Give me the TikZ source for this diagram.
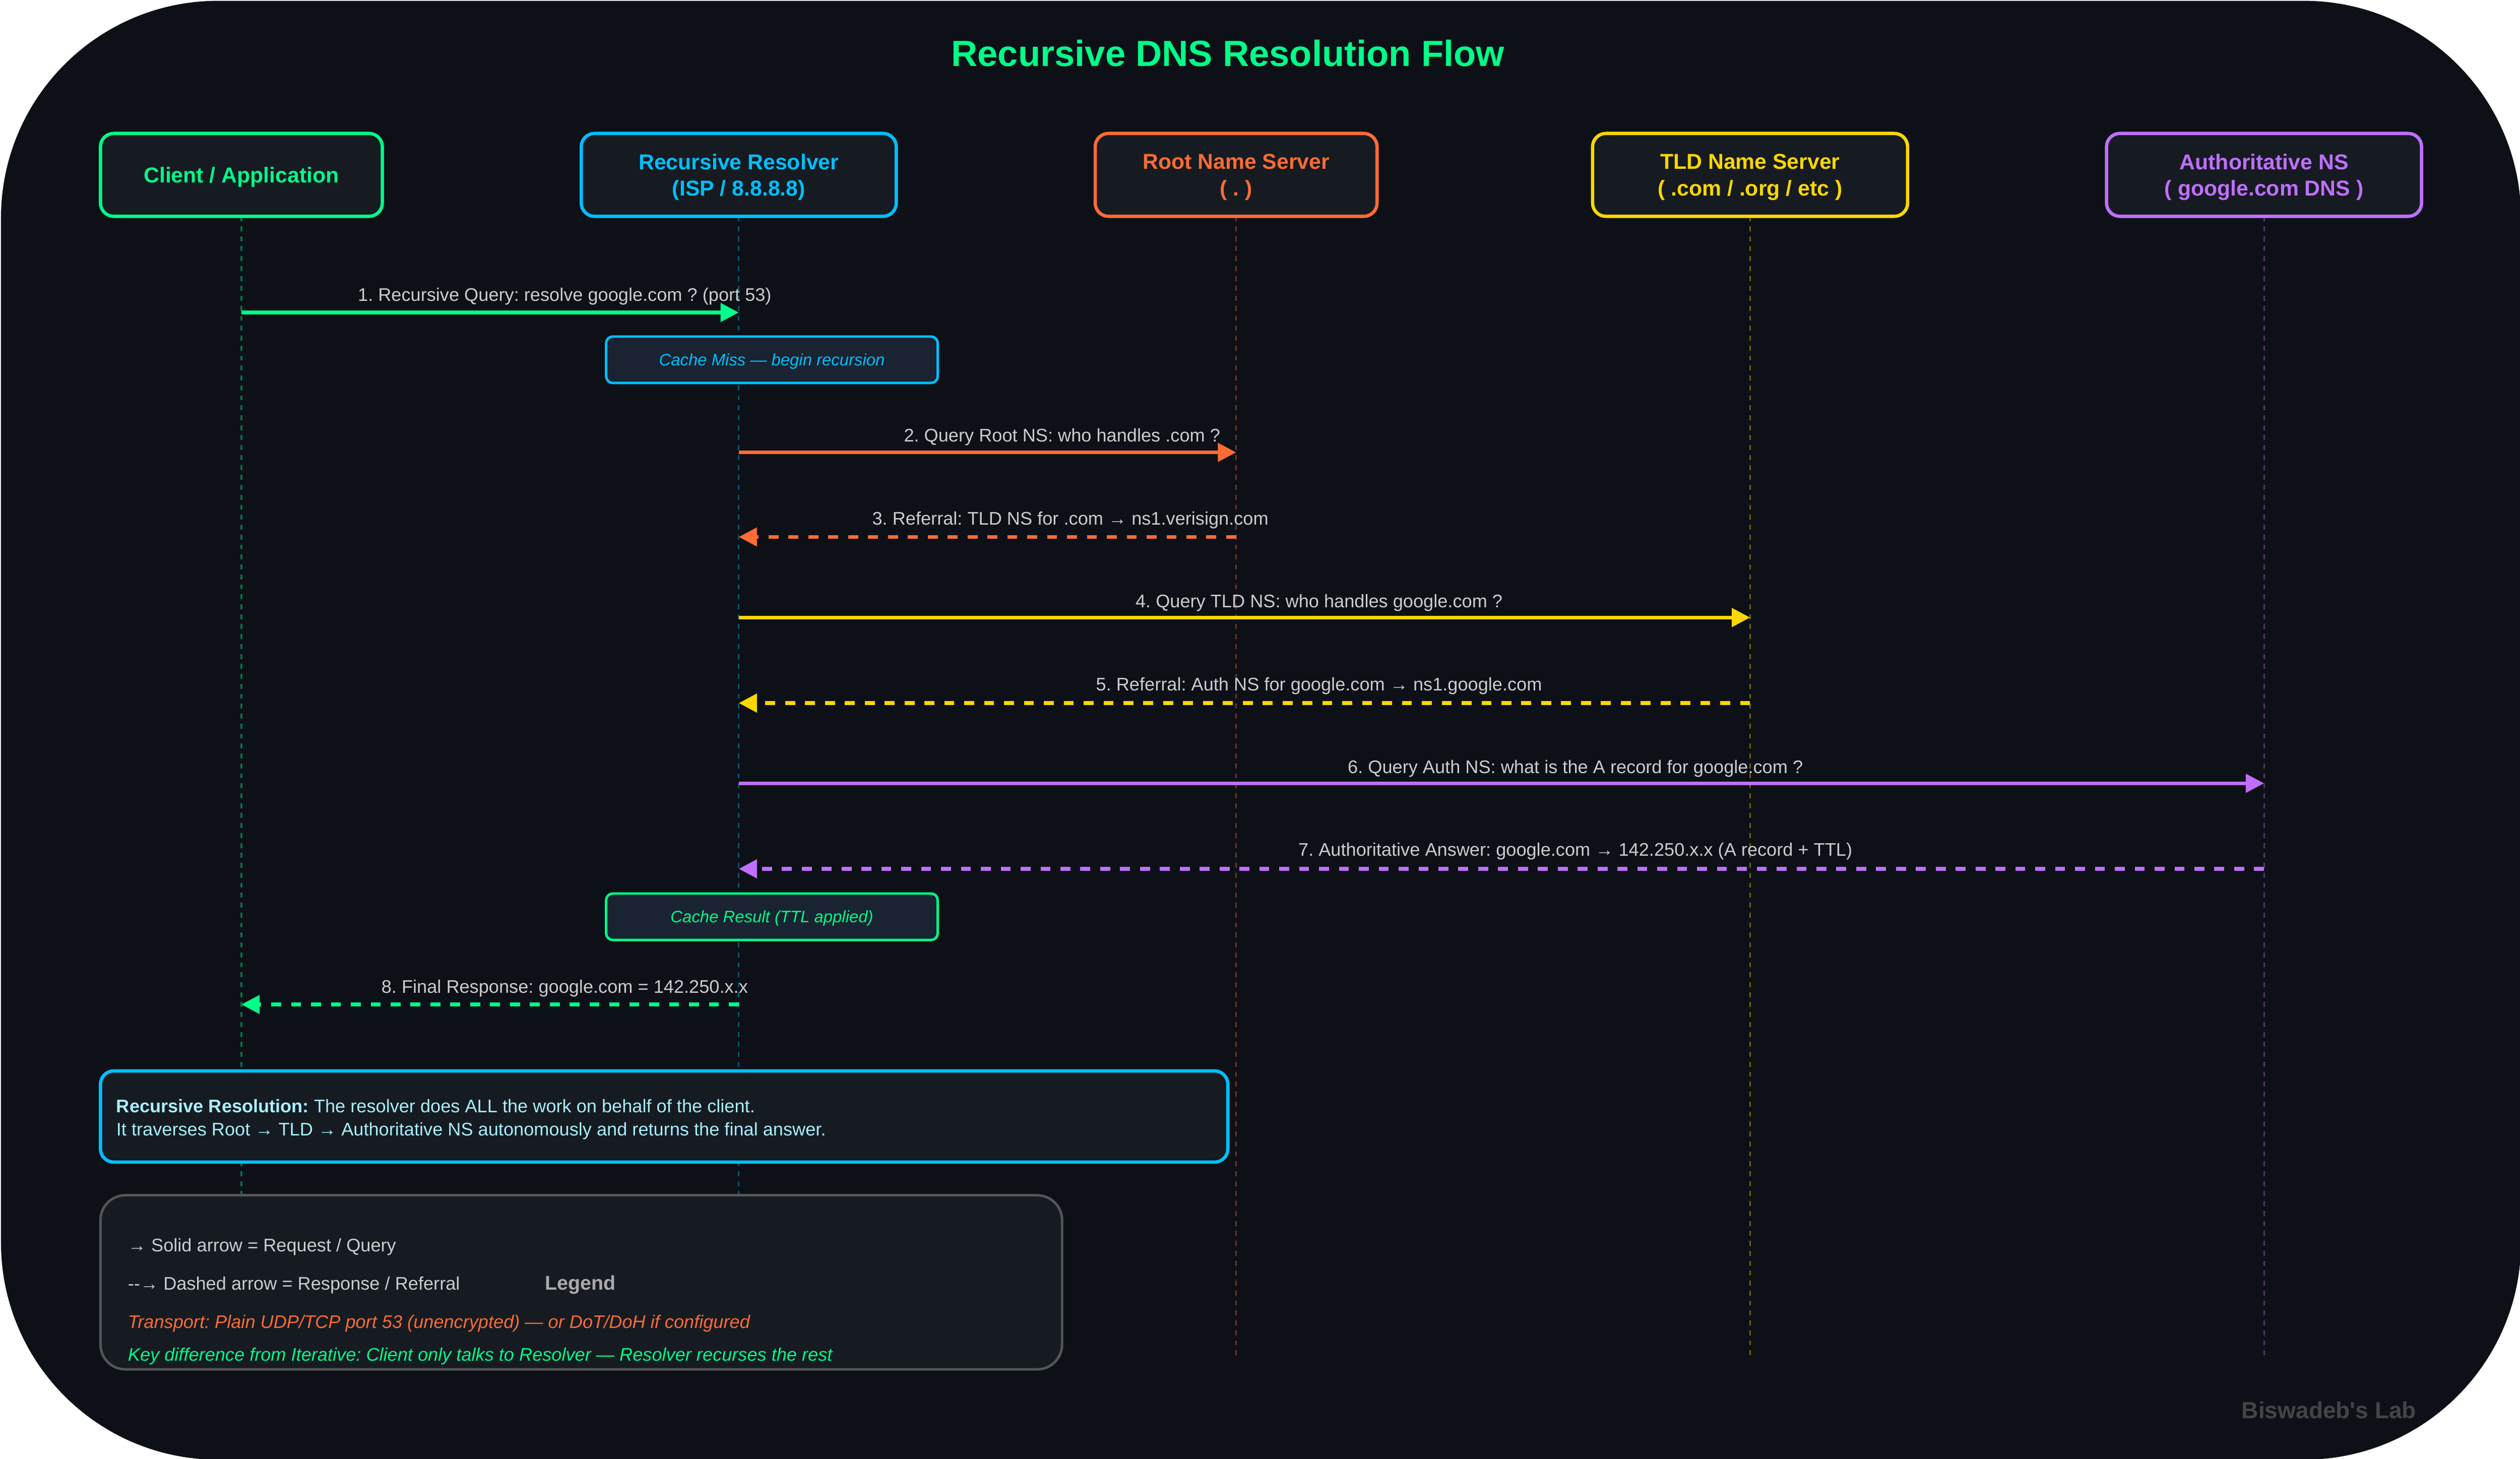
\documentclass[tikz,border=0pt]{standalone}
\usepackage{fontspec}
\setmainfont{Liberation Sans}
\usepackage{tikz}
\usetikzlibrary{arrows.meta}
\frenchspacing

\definecolor{col_bg}{HTML}{0D1117}
\definecolor{col_box}{HTML}{161B22}
\definecolor{col_note}{HTML}{1A2332}
\definecolor{col_green}{HTML}{00FF88}
\definecolor{col_blue}{HTML}{00BFFF}
\definecolor{col_orange}{HTML}{FF6B35}
\definecolor{col_yellow}{HTML}{FFD700}
\definecolor{col_purple}{HTML}{BF6FFF}
\definecolor{col_label}{HTML}{CCCCCC}
\definecolor{col_info}{HTML}{A8EFFF}
\definecolor{col_edge}{HTML}{555555}
\definecolor{col_legend}{HTML}{AAAAAA}
\definecolor{col_mark}{HTML}{444444}

\tikzset{
  actor_box/.style={fill=col_box,line width=2bp,rounded corners=8bp,align=center,inner sep=0pt,text depth=0bp,font=\fontsize{13bp}{16bp}\selectfont\bfseries,minimum height=50bp},
  note_box/.style={fill=col_note,line width=1.5bp,rounded corners=4bp,inner sep=0pt,text depth=0bp,minimum width=200bp,minimum height=28bp,font=\fontsize{10bp}{12bp}\selectfont\itshape},
  life_line/.style={line width=1bp,opacity=0.4,dash pattern=on 3bp off 3bp},
  call_line/.style={line width=2.2bp},
  back_line/.style={line width=2.2bp,dash pattern=on 6bp off 6bp},
  msg_text/.style={anchor=base,inner sep=0pt,text=col_label,font=\fontsize{11bp}{13bp}\selectfont},
  info_text/.style={anchor=base west,inner sep=0pt,font=\fontsize{11bp}{13bp}\selectfont},
}

\begin{document}
\begin{tikzpicture}[>={Triangle[length=11bp,width=11bp]},line join=bevel,shift={(0.6bp,-0.5bp)}]
\useasboundingbox (-0.6bp,0.5bp) rectangle (1519.4bp,880.5bp);
%%
\node (page_bg) at (760bp,440bp) [fill=col_bg,rounded corners=131bp,minimum width=1520bp,minimum height=880bp,inner sep=0pt,outer sep=0pt] {};
\node (title) at (740bp,840.5bp) [anchor=base,inner sep=0pt,text=col_green,font=\fontsize{22bp}{26bp}\selectfont\bfseries] {Recursive DNS Resolution Flow};
%% lifelines
\coordinate (client_end) at (145bp,60bp);
\coordinate (resolver_end) at (445bp,60bp);
\coordinate (root_end) at (745bp,60bp);
\coordinate (tld_end) at (1055bp,60bp);
\coordinate (auth_end) at (1365bp,60bp);
\coordinate (client_top) at (145bp,750bp);
\coordinate (resolver_top) at (445bp,750bp);
\coordinate (root_top) at (745bp,750bp);
\coordinate (tld_top) at (1055bp,750bp);
\coordinate (auth_top) at (1365bp,750bp);
\draw [col_green,life_line] (client_top) -- (client_end);
\draw [col_blue,life_line] (resolver_top) -- (resolver_end);
\draw [col_orange,life_line] (root_top) -- (root_end);
\draw [col_yellow,life_line] (tld_top) -- (tld_end);
\draw [col_purple,life_line] (auth_top) -- (auth_end);
%% actors
\node (client) at (145bp,775bp) [actor_box,draw=col_green,text=col_green,minimum width=170bp] {Client / Application};
\node (resolver) at (445bp,775bp) [actor_box,draw=col_blue,text=col_blue,minimum width=190bp] {Recursive Resolver\\(ISP / 8.8.8.8)};
\node (root) at (745bp,775bp) [actor_box,draw=col_orange,text=col_orange,minimum width=170bp] {Root Name Server\\( . )};
\node (tld) at (1055bp,775bp) [actor_box,draw=col_yellow,text=col_yellow,minimum width=190bp] {TLD Name Server\\( .com / .org / etc )};
\node (auth) at (1365bp,775bp) [actor_box,draw=col_purple,text=col_purple,minimum width=190bp] {Authoritative NS\\( google.com DNS )};
%% messages
\coordinate (msg_1a) at (145bp,692bp);
\coordinate (msg_1b) at (445bp,692bp);
\coordinate (msg_2a) at (445bp,607.6bp);
\coordinate (msg_2b) at (745bp,607.6bp);
\coordinate (msg_3a) at (745bp,556.6bp);
\coordinate (msg_3b) at (445bp,556.6bp);
\coordinate (msg_4a) at (445bp,508bp);
\coordinate (msg_4b) at (1055bp,508bp);
\coordinate (msg_5a) at (1055bp,456.4bp);
\coordinate (msg_5b) at (445bp,456.4bp);
\coordinate (msg_6a) at (445bp,408bp);
\coordinate (msg_6b) at (1365bp,408bp);
\coordinate (msg_7a) at (1365bp,356.4bp);
\coordinate (msg_7b) at (445bp,356.4bp);
\coordinate (msg_8a) at (445bp,274.6bp);
\coordinate (msg_8b) at (145bp,274.6bp);
\draw [col_green,call_line,->] (msg_1a) -- (msg_1b);
\draw [col_orange,call_line,->] (msg_2a) -- (msg_2b);
\draw [col_orange,back_line,->] (msg_3a) -- (msg_3b);
\draw [col_yellow,call_line,->] (msg_4a) -- (msg_4b);
\draw [col_yellow,back_line,->] (msg_5a) -- (msg_5b);
\draw [col_purple,call_line,->] (msg_6a) -- (msg_6b);
\draw [col_purple,back_line,->] (msg_7a) -- (msg_7b);
\draw [col_green,back_line,->] (msg_8a) -- (msg_8b);
\node (msg_1) at (340bp,698.8bp) [msg_text] {1. Recursive Query: resolve google.com ? (port 53)};
\node (msg_2) at (640bp,614bp) [msg_text] {2. Query Root NS: who handles .com ?};
\node (msg_3) at (645bp,564bp) [msg_text] {3. Referral: TLD NS for .com → ns1.verisign.com};
\node (msg_4) at (795bp,514bp) [msg_text] {4. Query TLD NS: who handles google.com ?};
\node (msg_5) at (795bp,464bp) [msg_text] {5. Referral: Auth NS for google.com → ns1.google.com};
\node (msg_6) at (949.6bp,414bp) [msg_text] {6. Query Auth NS: what is the A record for google.com ?};
\node (msg_7) at (949.6bp,364bp) [msg_text] {7. Authoritative Answer: google.com → 142.250.x.x (A record + TTL)};
\node (msg_8) at (340bp,281.6bp) [msg_text] {8. Final Response: google.com = 142.250.x.x};
%% notes
\node (note_miss) at (465bp,663.5bp) [note_box,draw=col_blue,text=col_blue] {Cache Miss — begin recursion};
\node (note_cache) at (465bp,327.5bp) [note_box,draw=col_green,text=col_green] {Cache Result (TTL applied)};
%% summary
\node (summary) at (400bp,207bp) [draw=col_blue,fill=col_box,line width=2bp,rounded corners=8bp,minimum width=680bp,minimum height=55bp,inner sep=0pt] {};
\node (summary_1) at (69.4bp,209.5bp) [info_text,text=col_info] {\textbf{Recursive Resolution:} The resolver does ALL the work on behalf of the client.};
\node (summary_2) at (69.4bp,195.5bp) [info_text,text=col_info] {It traverses Root → TLD → Authoritative NS autonomously and returns the final answer.};
%% legend
\node (legend_box) at (350bp,107bp) [draw=col_edge,fill=col_box,line width=1.5bp,rounded corners=15bp,minimum width=580bp,minimum height=105bp,inner sep=0pt] {};
\node (legend_1) at (76.4bp,125.5bp) [info_text,text=col_label] {→ Solid arrow = Request / Query};
\node (legend_2) at (76.4bp,102.4bp) [info_text,text=col_label] {-{}-→ Dashed arrow = Response / Referral};
\node (legend) at (349.4bp,102.5bp) [anchor=base,inner sep=0pt,text=col_legend,font=\fontsize{12bp}{14bp}\selectfont\bfseries] {Legend};
\node (legend_3) at (76.4bp,79.4bp) [info_text,text=col_orange,font=\fontsize{11bp}{13bp}\selectfont\itshape] {Transport: Plain UDP/TCP port 53 (unencrypted) — or DoT/DoH if configured};
\node (legend_4) at (76.4bp,59.4bp) [info_text,text=col_green,font=\fontsize{11bp}{13bp}\selectfont\itshape] {Key difference from Iterative: Client only talks to Resolver — Resolver recurses the rest};
\node (watermark) at (1457bp,25bp) [anchor=base east,inner sep=0pt,text=col_mark,font=\fontsize{14bp}{16bp}\selectfont\bfseries] {Biswadeb\textquotesingle s Lab};
%
\end{tikzpicture}
\end{document}
